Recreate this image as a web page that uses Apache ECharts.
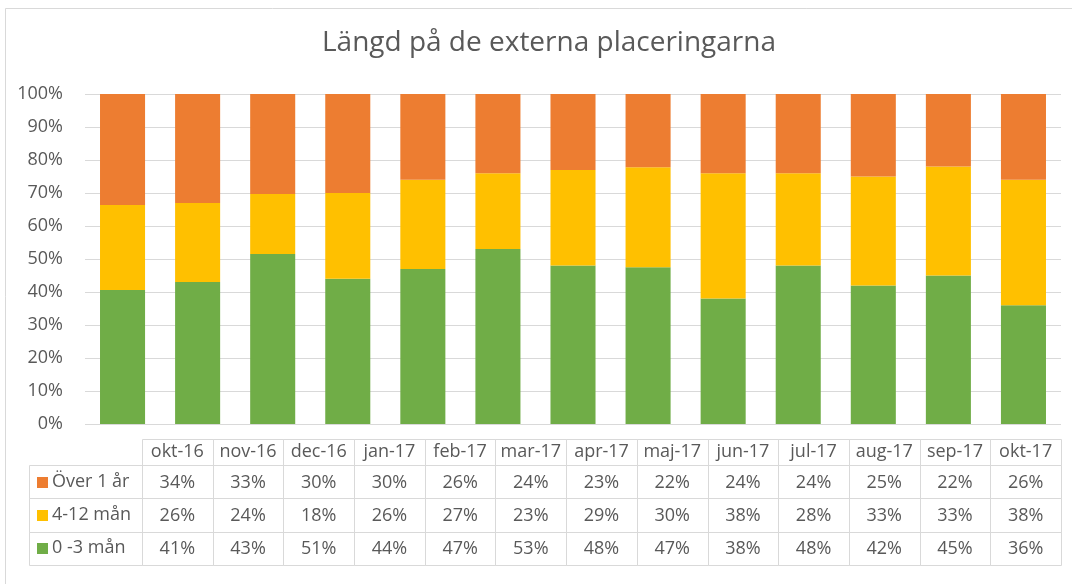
<!DOCTYPE html>
<html>
<head>
<meta charset="utf-8">
<script src="https://cdn.jsdelivr.net/npm/echarts@6/dist/echarts.min.js"></script>
<style>
html,body{margin:0;padding:0;background:#fff;}
#c{width:1072px;height:584px;}
</style>
</head>
<body>
<div id="c"></div>
<script>
const categories = ['okt-16','nov-16','dec-16','jan-17','feb-17','mar-17','apr-17','maj-17','jun-17','jul-17','aug-17','sep-17','okt-17'];
const seriesNames = ['Över 1 år','4-12 mån','0 -3 mån'];
const over1 = [34,33,30,30,26,24,23,22,24,24,25,22,26];
const m4to12 = [26,24,18,26,27,23,29,30,38,28,33,33,38];
const m0to3 = [41,43,51,44,47,53,48,47,38,48,42,45,36];
const yTicks = [0,10,20,30,40,50,60,70,80,90,100];
const colors = {'Över 1 år':'#ED7D31','4-12 mån':'#FFC000','0 -3 mån':'#70AD47'};

const rows = {'Över 1 år':over1,'4-12 mån':m4to12,'0 -3 mån':m0to3};
const totals = categories.map((_,i)=>over1[i]+m4to12[i]+m0to3[i]);
const norm = arr => arr.map((v,i)=>v/totals[i]*100);

const FONT = '"Open Sans", "Liberation Sans", sans-serif';
const TXT = '#595959';
const LINE = '#D9D9D9';

const chart = echarts.init(document.getElementById('c'), null, {renderer:'canvas'});

// table data
const bodyData = [];
seriesNames.forEach((n,r)=>{ rows[n].forEach((v,c)=>bodyData.push([c,r,v+'%'])); });
const headerData = categories.map((c,i)=>[i,0,c]);
const legendData = seriesNames.map((n,r)=>[0,r,n]);

function cellRect(api){
  const p = api.coord([api.value(0), api.value(1)]);
  const s = api.size([1,1]);
  const x0 = Math.round(p[0]-s[0]/2), x1 = Math.round(p[0]+s[0]/2);
  const y0 = Math.round(p[1]-s[1]/2), y1 = Math.round(p[1]+s[1]/2);
  return {x:x0, y:y0, w:x1-x0, h:y1-y0, cx:p[0], cy:p[1]};
}
function border(r){
  return {type:'rect', shape:{x:r.x+0.5,y:r.y+0.5,width:r.w,height:r.h}, style:{fill:'none',stroke:LINE,lineWidth:1}};
}

const option = {
  backgroundColor:'#fff',
  animation:false,
  title:{
    text:'Längd på de externa placeringarna',
    left:544, top:24, textAlign:'center',
    textStyle:{fontFamily:FONT, fontSize:28, fontWeight:'normal', color:TXT}
  },
  graphic:[{type:'rect', shape:{x:5.5,y:8.5,width:1100,height:600}, style:{fill:'none',stroke:LINE,lineWidth:1}, silent:true}],
  grid:[
    {left:85, right:11, top:94, bottom:160},
    {left:142, right:11, top:465, bottom:19},
    {left:142, right:11, top:439, height:26},
    {left:29, width:113, top:465, bottom:19}
  ],
  xAxis:[
    {gridIndex:0, type:'category', data:categories, axisLabel:{show:false}, axisTick:{show:false}, axisLine:{show:false}},
    {gridIndex:1, type:'category', data:categories, show:false},
    {gridIndex:2, type:'category', data:categories, show:false},
    {gridIndex:3, type:'category', data:[''], show:false}
  ],
  yAxis:[
    {gridIndex:0, type:'value', min:yTicks[0], max:yTicks[yTicks.length-1], interval:yTicks[1]-yTicks[0],
     axisLabel:{formatter:'{value}%', color:TXT, fontFamily:FONT, fontSize:18, margin:22},
     axisLine:{show:false}, axisTick:{show:false}, splitLine:{lineStyle:{color:LINE, width:1}}},
    {gridIndex:1, type:'category', data:seriesNames, inverse:true, show:false},
    {gridIndex:2, type:'category', data:[''], show:false},
    {gridIndex:3, type:'category', data:seriesNames, inverse:true, show:false}
  ],
  series:[
    {name:'0 -3 mån', type:'bar', stack:'s', data:norm(m0to3), barWidth:'60%', itemStyle:{color:colors['0 -3 mån']}},
    {name:'4-12 mån', type:'bar', stack:'s', data:norm(m4to12), barWidth:'60%', itemStyle:{color:colors['4-12 mån']}},
    {name:'Över 1 år', type:'bar', stack:'s', data:norm(over1), barWidth:'60%', itemStyle:{color:colors['Över 1 år']}},
    {type:'custom', xAxisIndex:1, yAxisIndex:1, clip:false, data:bodyData,
     renderItem:(params, api)=>{
       const r = cellRect(api);
       return {type:'group', children:[
         border(r),
         {type:'text', style:{text:bodyData[params.dataIndex][2], x:r.cx, y:r.cy+1, textAlign:'center', textVerticalAlign:'middle', fontFamily:FONT, fontSize:18, fill:TXT}}
       ]};
     }},
    {type:'custom', xAxisIndex:2, yAxisIndex:2, clip:false, data:headerData,
     renderItem:(params, api)=>{
       const r = cellRect(api);
       return {type:'group', children:[
         border(r),
         {type:'text', style:{text:headerData[params.dataIndex][2], x:r.cx, y:r.cy, textAlign:'center', textVerticalAlign:'middle', fontFamily:FONT, fontSize:18, fill:TXT}}
       ]};
     }},
    {type:'custom', xAxisIndex:3, yAxisIndex:3, clip:false, data:legendData,
     renderItem:(params, api)=>{
       const r = cellRect(api);
       const name = legendData[params.dataIndex][2];
       return {type:'group', children:[
         border(r),
         {type:'rect', shape:{x:r.x+8,y:Math.round(r.cy)-5,width:11,height:11}, style:{fill:colors[name]}},
         {type:'text', style:{text:name, x:r.x+23, y:r.cy, textAlign:'left', textVerticalAlign:'middle', fontFamily:FONT, fontSize:18, fill:TXT}}
       ]};
     }}
  ]
};
chart.setOption(option);
</script>
</body>
</html>
